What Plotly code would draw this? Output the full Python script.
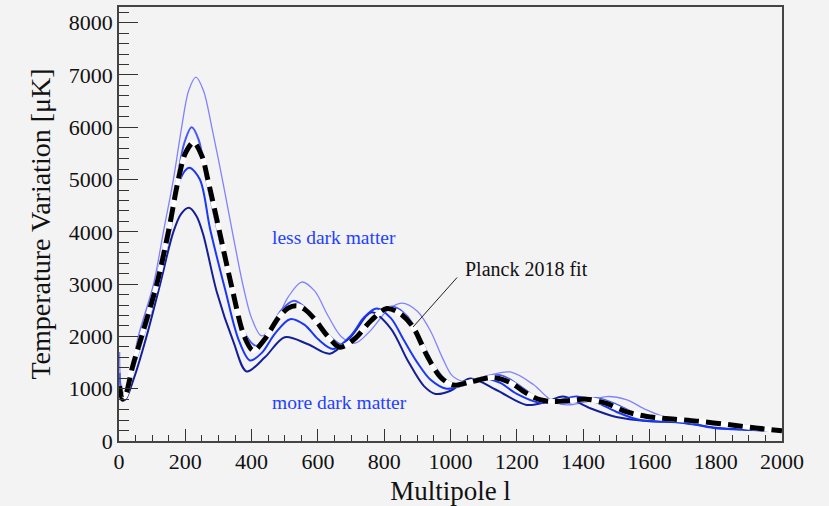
import plotly.graph_objects as go

# ---- data (multipole l, D_l in uK) ----
l_light = [2, 8, 20, 58, 104, 134, 164, 189, 210, 232, 255, 280, 315, 345, 375, 400, 430, 470, 510, 551, 590, 630, 670, 712, 760, 810, 853, 900, 940, 975, 1005, 1040, 1100, 1180, 1250, 1300, 1350, 1410, 1471, 1530, 1590, 1642, 1700, 1773, 1874, 2000]
v_light = [1700, 1000, 880, 2000, 3000, 4000, 5000, 6000, 6700, 6960, 6700, 6000, 4900, 3900, 2950, 2350, 2010, 2250, 2750, 3040, 2870, 2400, 2000, 1870, 2120, 2500, 2635, 2480, 2100, 1600, 1250, 1140, 1230, 1320, 1080, 800, 690, 750, 850, 790, 600, 470, 400, 365, 310, 215]

l_med = [2, 10, 20, 60, 108, 145, 175, 197, 219, 241, 262, 300, 340, 380, 415, 450, 490, 528, 570, 620, 680, 730, 780, 828, 870, 910, 950, 990, 1030, 1080, 1150, 1210, 1260, 1330, 1390, 1440, 1500, 1560, 1650, 1780, 1880, 2000]
v_med = [1300, 850, 860, 1950, 3000, 4000, 5000, 5700, 6000, 5750, 5050, 3950, 2900, 2050, 1820, 2080, 2500, 2680, 2500, 2100, 1820, 2050, 2450, 2570, 2380, 1950, 1450, 1150, 1080, 1150, 1260, 1050, 830, 720, 770, 820, 700, 520, 420, 360, 300, 200]

l_planck = [2, 10, 20, 40, 68, 114, 149, 179, 200, 225, 250, 268, 305, 340, 378, 405, 440, 480, 510, 535, 560, 590, 630, 667, 710, 760, 808, 850, 887, 930, 970, 1008, 1060, 1128, 1180, 1230, 1270, 1310, 1360, 1410, 1470, 1530, 1592, 1670, 1743, 1843, 1920, 2000]
v_planck = [1050, 800, 880, 1400, 2000, 3000, 4000, 5000, 5500, 5710, 5450, 5000, 3950, 2950, 2000, 1730, 1950, 2350, 2540, 2585, 2520, 2330, 2000, 1795, 1950, 2300, 2535, 2430, 2180, 1620, 1220, 1070, 1130, 1213, 1120, 910, 790, 755, 775, 800, 720, 560, 470, 420, 380, 310, 250, 195]

l_blue = [2, 10, 20, 40, 73, 119, 154, 184, 212, 244, 275, 320, 360, 395, 430, 470, 516, 560, 600, 646, 700, 740, 777, 820, 860, 900, 940, 988, 1040, 1099, 1150, 1200, 1270, 1330, 1381, 1440, 1500, 1572, 1672, 1740, 1793, 1900, 2000]
v_blue = [1000, 790, 830, 1300, 2000, 3000, 4000, 5000, 5225, 5000, 4050, 2900, 1950, 1540, 1680, 2050, 2330, 2220, 1950, 1760, 2020, 2370, 2535, 2350, 1920, 1500, 1170, 1000, 1070, 1195, 1110, 900, 730, 780, 850, 740, 560, 400, 370, 310, 250, 215, 195]

l_navy = [2, 10, 20, 45, 83, 124, 164, 188, 211, 234, 254, 295, 345, 385, 440, 500, 570, 636, 700, 762, 820, 870, 920, 955, 1000, 1059, 1140, 1230, 1290, 1340, 1420, 1500, 1600, 1700, 1800, 1900, 2000]
v_navy = [900, 780, 800, 1200, 2000, 3000, 4000, 4350, 4460, 4300, 3950, 2850, 1900, 1330, 1600, 1985, 1850, 1670, 2000, 2460, 2150, 1550, 1050, 900, 960, 1195, 970, 690, 750, 850, 630, 460, 380, 355, 255, 215, 190]

x_ticks = [0, 200, 400, 600, 800, 1000, 1200, 1400, 1600, 1800, 2000]
y_ticks = [0, 1000, 2000, 3000, 4000, 5000, 6000, 7000, 8000]

SERIF = "Liberation Serif"
BG = "#f3f3f3"

fig = go.Figure()

def add_line(x, y, color, width, dash="solid"):
    fig.add_trace(go.Scatter(x=x, y=y, mode="lines",
                             line=dict(color=color, width=width, dash=dash, shape="spline", smoothing=0.9),
                             showlegend=False, hoverinfo="skip"))

add_line(l_light, v_light, "rgb(130,130,255)", 1.3)
add_line(l_med, v_med, "rgb(70,90,250)", 2.0)
add_line(l_navy, v_navy, "rgb(20,30,150)", 2.0)
add_line(l_blue, v_blue, "rgb(25,55,245)", 2.0)
add_line(l_planck, v_planck, "white", 5.0)
add_line(l_planck, v_planck, "black", 5.0, dash="15px,7px")

fig.add_annotation(x=649, y=3886, xref="x", yref="y", text="less dark matter", showarrow=False,
                   font=dict(family=SERIF, size=19.5, color="rgb(35,65,255)"))
fig.add_annotation(x=664, y=740, xref="x", yref="y", text="more dark matter", showarrow=False,
                   font=dict(family=SERIF, size=19.5, color="rgb(35,65,255)"))
fig.add_annotation(x=1038, y=3280, xref="x", yref="y", text="Planck 2018 fit", showarrow=False,
                   xanchor="left", font=dict(family=SERIF, size=20, color="#111"))
fig.add_shape(type="line", xref="x", yref="y", x0=887, y0=2180, x1=1020, y1=3128,
              line=dict(color="#222", width=1))

fig.update_layout(
    width=829, height=506, paper_bgcolor=BG, plot_bgcolor=BG,
    margin=dict(l=119, r=47, t=5, b=63), showlegend=False,
    font=dict(family=SERIF, size=22, color="#111"),
    xaxis=dict(range=[0, 2000], tickmode="array", tickvals=x_ticks,
               showgrid=False, zeroline=False, showline=True, linecolor="#444", linewidth=1.5,
               mirror=True, ticks="inside", ticklen=12, tickcolor="#333", tickwidth=1,
               tickfont=dict(family=SERIF, size=22, color="#111"),
               minor=dict(dtick=50, ticks="inside", ticklen=6, tickcolor="#333"),
               title=dict(text="Multipole l", font=dict(family=SERIF, size=27, color="#111"), standoff=8)),
    yaxis=dict(range=[0, 8300], tickmode="array", tickvals=y_ticks,
               showgrid=False, zeroline=False, showline=True, linecolor="#444", linewidth=1.5,
               mirror=True, ticks="inside", ticklen=19, tickcolor="#333", tickwidth=1,
               tickfont=dict(family=SERIF, size=22, color="#111"),
               minor=dict(dtick=200, ticks="inside", ticklen=10, tickcolor="#333"),
               title=dict(text="Temperature Variation [μK]", font=dict(family=SERIF, size=28, color="#111"), standoff=10)),
)

fig.write_html("out.html")
